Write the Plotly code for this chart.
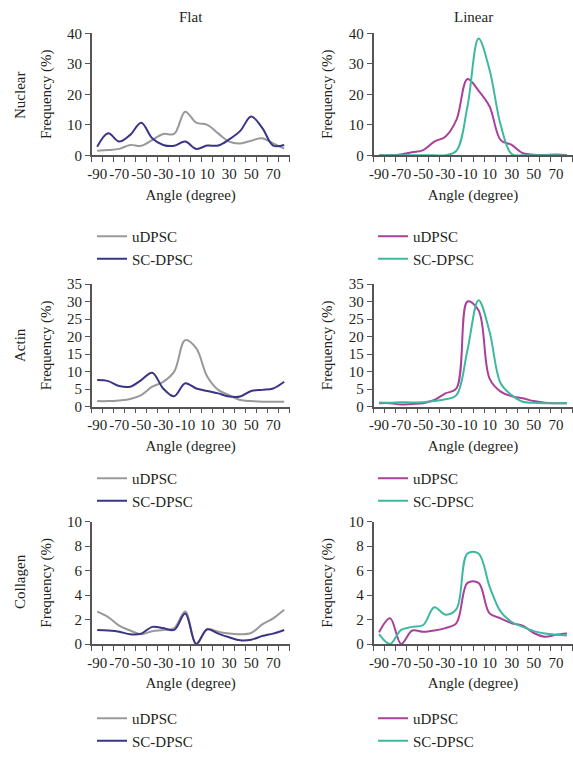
import plotly.graph_objects as go

# ---------------- data ----------------
angles = [-90, -80, -70, -60, -50, -40, -30, -20, -10, 0, 10, 20, 30, 40, 50, 60, 70, 80]
tick_vals = [-90, -70, -50, -30, -10, 10, 30, 50, 70]
tick_text = ["-90", "-70", "-50", "-30", "-10", "10", "30", "50", "70"]

flat_nuclear_u = [1.5, 1.7, 2.1, 3.4, 3.1, 5.0, 7.0, 7.0, 14.3, 10.7, 10.0, 7.2, 4.5, 3.9, 4.8, 5.6, 3.9, 2.2]
flat_nuclear_sc = [2.8, 7.2, 4.5, 6.7, 10.7, 5.6, 3.4, 3.1, 4.5, 2.1, 3.2, 3.2, 5.2, 8.0, 12.7, 9.0, 3.2, 3.4]
linear_nuclear_u = [0, 0, 0.3, 1.0, 1.7, 4.5, 6.1, 11.6, 25.0, 21.2, 16.0, 5.0, 3.4, 0.7, 0.2, 0.1, 0.3, 0.1]
linear_nuclear_sc = [0, 0, 0, 0, 0, 0, 0, 1.5, 16.0, 38.3, 28.0, 10.0, 0.4, 0, 0, 0, 0, 0]

flat_actin_u = [1.6, 1.6, 1.8, 2.2, 3.3, 5.7, 7.1, 10.0, 19.0, 16.7, 8.6, 4.8, 3.3, 1.9, 1.6, 1.4, 1.4, 1.4]
flat_actin_sc = [7.6, 7.3, 5.9, 5.7, 7.6, 9.7, 5.2, 3.0, 6.7, 5.2, 4.5, 3.8, 2.9, 2.9, 4.5, 4.8, 5.2, 7.1]
linear_actin_u = [1.0, 1.0, 0.6, 0.8, 1.0, 1.9, 3.8, 5.2, 30.0, 27.5, 8.0, 4.3, 3.0, 2.4, 1.6, 1.1, 1.0, 1.0]
linear_actin_sc = [1.2, 1.1, 1.3, 1.2, 1.3, 1.6, 2.1, 3.3, 16.2, 30.4, 21.4, 6.7, 3.3, 1.4, 1.1, 1.0, 1.0, 1.0]

flat_collagen_u = [2.65, 2.2, 1.5, 1.1, 0.8, 1.05, 1.15, 1.3, 2.65, 0, 1.2, 1.0, 0.85, 0.8, 0.9, 1.6, 2.1, 2.8]
flat_collagen_sc = [1.15, 1.1, 1.0, 0.8, 0.85, 1.4, 1.3, 1.15, 2.5, 0, 1.2, 0.85, 0.55, 0.3, 0.35, 0.65, 0.85, 1.15]
linear_collagen_u = [0.95, 2.1, 0, 1.1, 1.0, 1.1, 1.3, 1.7, 5.0, 5.0, 2.5, 2.1, 1.7, 1.5, 0.9, 0.6, 0.75, 0.85]
linear_collagen_sc = [0.8, 0, 1.15, 1.4, 1.55, 3.0, 2.4, 2.85, 7.4, 7.4, 4.7, 2.65, 1.8, 1.4, 1.05, 0.85, 0.75, 0.7]

row_names = ["Nuclear", "Actin", "Collagen"]
col_names = ["Flat", "Linear"]
y_max = [40, 35, 10]
y_dtick = [10, 5, 2]
series_names = ["uDPSC", "SC-DPSC"]

panels = [
    [(flat_nuclear_u, flat_nuclear_sc), (linear_nuclear_u, linear_nuclear_sc)],
    [(flat_actin_u, flat_actin_sc), (linear_actin_u, linear_actin_sc)],
    [(flat_collagen_u, flat_collagen_sc), (linear_collagen_u, linear_collagen_sc)],
]

# ---------------- style ----------------
W, H = 573, 757
FONT = "Liberation Serif, Times New Roman, serif"
TXT = "#231f20"
AXC = "#555555"
colors = [["#999999", "#3a3587"], ["#a8409c", "#3fb8a0"]]

x_dom_px = [(91.7, 289.7), (373.5, 572.5)]
y_dom_px = [(33.3, 155.3), (284.0, 406.7), (521.7, 644.0)]
legend_top_px = [220, 462, 702]
legend_left_px = [92, 373]
row_label_y_px = [96, 345, 582]

fig = go.Figure()
layout = dict(
    width=W, height=H,
    margin=dict(l=0, r=0, t=0, b=0, autoexpand=False),
    paper_bgcolor="white", plot_bgcolor="white",
    font=dict(family=FONT, size=15, color=TXT),
    showlegend=True,
)
annotations = []

for r in range(3):
    for c in range(2):
        idx = r * 2 + c + 1
        xa = "x" if idx == 1 else f"x{idx}"
        ya = "y" if idx == 1 else f"y{idx}"
        lg = "legend" if idx == 1 else f"legend{idx}"
        for s in range(2):
            fig.add_trace(go.Scatter(
                x=angles, y=panels[r][c][s], mode="lines", name=series_names[s],
                line=dict(color=colors[c][s], width=2, shape="spline", smoothing=1.0),
                xaxis=xa, yaxis=ya, legend=lg,
            ))
        x0, x1 = x_dom_px[c]
        yt, yb = y_dom_px[r]
        layout[f"xaxis{'' if idx == 1 else idx}"] = dict(
            domain=[x0 / W, x1 / W], anchor=ya, range=[-95, 85],
            tickmode="array", tickvals=tick_vals, ticktext=tick_text, tickangle=0,
            ticks="", ticklabelstandoff=4, showline=True, linecolor=AXC, linewidth=1.5,
            showgrid=False, zeroline=False, automargin=False,
            tickfont=dict(size=15, family=FONT, color=TXT),
            minor=dict(tickmode="linear", tick0=-95, dtick=10, ticks="outside",
                       ticklen=5, tickcolor=AXC, tickwidth=1.2, showgrid=False),
            title=dict(text="Angle (degree)", font=dict(size=15, family=FONT, color=TXT), standoff=8),
        )
        layout[f"yaxis{'' if idx == 1 else idx}"] = dict(
            domain=[1 - yb / H, 1 - yt / H], anchor=xa, range=[0, y_max[r]],
            dtick=y_dtick[r], ticks="outside", ticklen=5, tickcolor=AXC, tickwidth=1.2,
            showline=True, linecolor=AXC, linewidth=1.5, showgrid=False, zeroline=False,
            automargin=False,
            tickfont=dict(size=15, family=FONT, color=TXT),
            title=dict(text="Frequency (%)", font=dict(size=15, family=FONT, color=TXT), standoff=12),
        )
        layout[lg] = dict(
            x=legend_left_px[c] / W, y=1 - legend_top_px[r] / H,
            xanchor="left", yanchor="top", bgcolor="rgba(0,0,0,0)",
            font=dict(size=15, family=FONT, color=TXT), tracegroupgap=0,
        )

for c, name in enumerate(col_names):
    x0, x1 = x_dom_px[c]
    annotations.append(dict(text=name, x=(x0 + x1) / 2 / W, y=1 - 17 / H, xref="paper", yref="paper",
                            xanchor="center", yanchor="middle",
                            showarrow=False, font=dict(size=15, family=FONT, color=TXT)))
for r, name in enumerate(row_names):
    annotations.append(dict(text=name, x=20 / W, y=1 - row_label_y_px[r] / H, xref="paper", yref="paper",
                            xanchor="center", yanchor="middle",
                            textangle=-90, showarrow=False, font=dict(size=15, family=FONT, color=TXT)))

layout["annotations"] = annotations
fig.update_layout(**layout)
fig.write_html("out.html", config={"displayModeBar": False},
               post_script="document.body.style.margin='0';")
